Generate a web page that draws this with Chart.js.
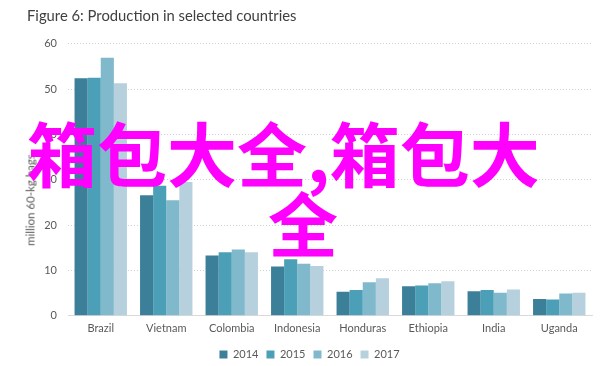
<!DOCTYPE html>
<html>
<head>
<meta charset="utf-8">
<script src="https://cdn.jsdelivr.net/npm/chart.js@4"></script>
<style>
  html, body { margin: 0; padding: 0; background: #ffffff; }
  #wrap { position: relative; width: 612px; height: 366px; overflow: hidden; }
  #yTitle {
    position: absolute; left: 30px; top: 200px;
    transform: translate(-50%, -50%) rotate(-90deg);
    font-family: Lato, sans-serif; font-size: 11.5px; color: #595959; white-space: nowrap;
  }
  .wm {
    position: absolute; white-space: nowrap; color: #ff00ff;
    font-family: "Noto Sans CJK SC", sans-serif; font-weight: 700;
    font-size: 70px; line-height: 70px; pointer-events: none;
  }
</style>
</head>
<body>
<div id="wrap">
  <canvas id="c" width="612" height="366"></canvas>
  <div id="yTitle">million 60-kg bags</div>
  <div class="wm" style="left:27px; top:117px;">箱包大全,箱包大</div>
  <div class="wm" style="left:268px; top:187px;">全</div>
</div>
<script>
const chartTitle = 'Figure 6: Production in selected countries';
const categories = ['Brazil', 'Vietnam', 'Colombia', 'Indonesia', 'Honduras', 'Ethiopia', 'India', 'Uganda'];
const seriesNames = ['2014', '2015', '2016', '2017'];
const values2014 = [52.4, 26.6, 13.3, 10.9, 5.3, 6.5, 5.4, 3.7];
const values2015 = [52.5, 28.7, 14.0, 12.5, 5.7, 6.7, 5.7, 3.6];
const values2016 = [56.9, 25.5, 14.6, 11.5, 7.4, 7.2, 5.1, 4.9];
const values2017 = [51.3, 29.5, 14.0, 11.0, 8.3, 7.6, 5.8, 5.1];
const yTickValues = [0, 10, 20, 30, 40, 50, 60];
const seriesColors = ['#3c7f99', '#4ba0b7', '#80b9cc', '#b6d1dd'];

const seriesValues = [values2014, values2015, values2016, values2017];
const datasets = seriesNames.map((name, i) => ({
  label: name,
  data: seriesValues[i],
  backgroundColor: seriesColors[i],
  borderWidth: 0,
  categoryPercentage: 0.8,
  barPercentage: 1.0
}));

new Chart(document.getElementById('c'), {
  type: 'bar',
  data: { labels: categories, datasets: datasets },
  options: {
    responsive: false,
    animation: false,
    layout: { padding: { left: 27, right: 20, top: 0, bottom: -4 } },
    plugins: {
      title: {
        display: true, text: chartTitle, align: 'start',
        color: '#404040',
        font: { family: 'Lato', size: 14.8, weight: 'normal' },
        padding: { top: 7, bottom: 19 }
      },
      legend: {
        position: 'bottom',
        labels: {
          boxWidth: 8, boxHeight: 8, padding: 8,
          color: '#595959',
          font: { family: 'Lato', size: 11 }
        }
      },
      tooltip: { enabled: false }
    },
    scales: {
      x: {
        grid: { display: false, drawTicks: false },
        border: { display: true, color: '#d9d9d9', width: 1 },
        ticks: { color: '#595959', font: { family: 'Lato', size: 11 }, padding: 6 }
      },
      y: {
        min: 0, max: 60,
        afterBuildTicks: (scale) => { scale.ticks = yTickValues.map(v => ({ value: v })); },
        afterFit: (scale) => { scale.width = 41; },
        grid: { color: '#d0d0d0', drawTicks: false },
        border: { display: false, dash: [1, 2] },
        ticks: { color: '#595959', font: { family: 'Lato', size: 11 }, padding: 11 }
      }
    }
  }
});
</script>
</body>
</html>
